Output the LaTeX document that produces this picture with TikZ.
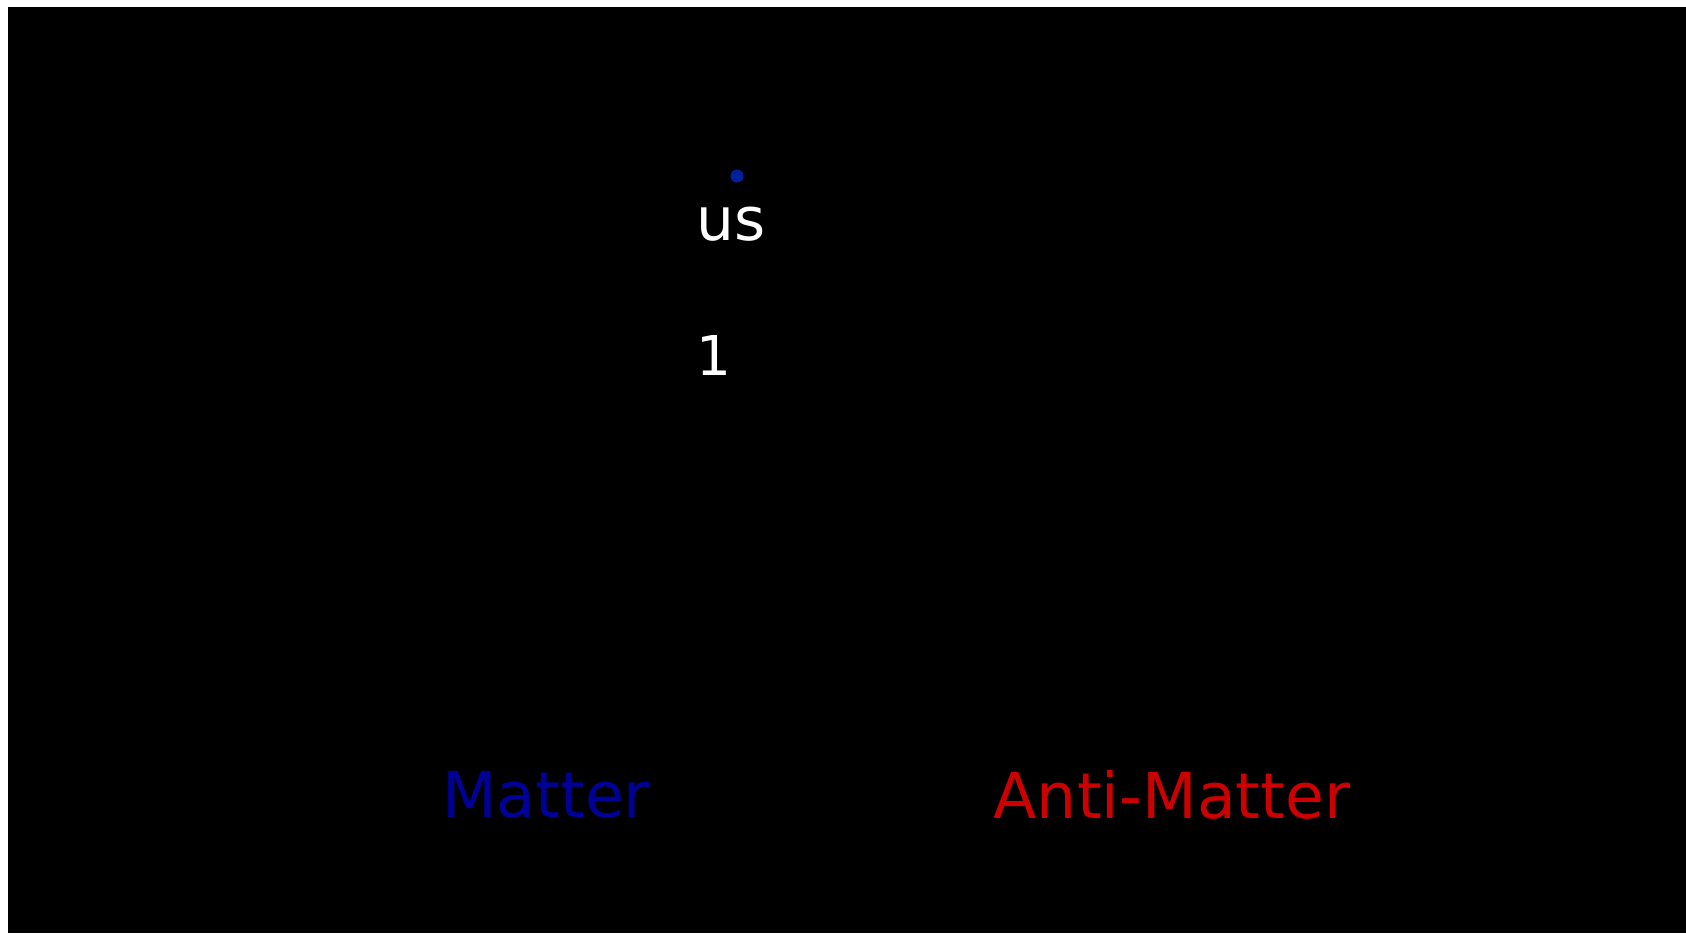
\documentclass[tikz,border=0pt]{standalone}
\usepackage{fontspec}
\setmainfont{DejaVu Sans}
\definecolor{matterblue}{RGB}{0,0,153}
\definecolor{antired}{RGB}{204,0,0}
\definecolor{dotblue}{RGB}{0,32,160}
\begin{document}
\begin{tikzpicture}[x=0.01cm,y=-0.01cm,
  lbl/.style={inner sep=0pt, anchor=center, font=\fontsize{18pt}{22pt}\selectfont}]
\useasboundingbox (0,0) rectangle (1686,933);
\fill[white] (0,0) rectangle (1686,933);
\fill[black] (8,7) rectangle (1686,933);
\fill[dotblue] (737,176) circle[radius=6.5];
\node[lbl, text=white, font=\fontsize{17pt}{20pt}\selectfont] (us) at (731,224) {us};
\node[lbl, text=white, font=\fontsize{15.6pt}{18pt}\selectfont] (one) at (714,355) {1};
\node[lbl, text=matterblue] (matter) at (546,795) {Matter};
\node[lbl, text=antired] (anti) at (1172,795) {Anti-Matter};
\end{tikzpicture}
\end{document}
